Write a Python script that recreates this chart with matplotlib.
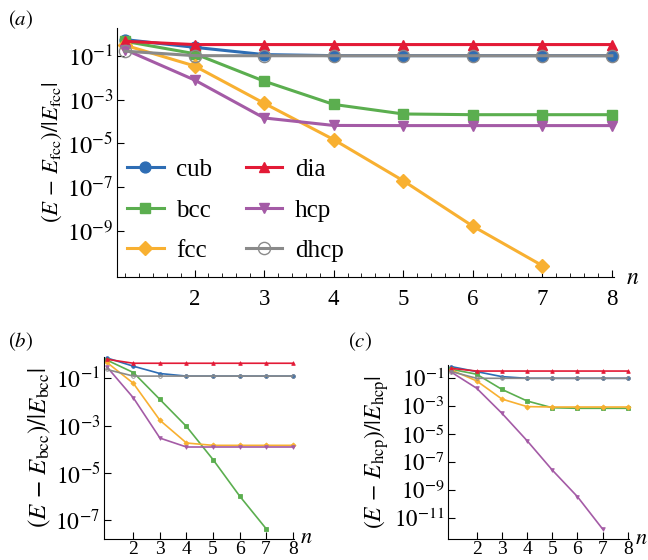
import numpy as np
import matplotlib
matplotlib.use('Agg')
import matplotlib.pyplot as plt
from matplotlib.ticker import FixedLocator, MultipleLocator, NullLocator

plt.rcParams['font.family'] = ['Liberation Serif', 'DejaVu Serif']
plt.rcParams['mathtext.fontset'] = 'stix'

# structures and style
names = ['cub', 'bcc', 'fcc', 'dia', 'hcp', 'dhcp']
col = {'cub': '#2E6DB4', 'bcc': '#5BAE4F', 'fcc': '#F8B031',
       'dia': '#E31A36', 'hcp': '#A45BA6', 'dhcp': '#8A8A8A'}
mark = {'cub': 'o', 'bcc': 's', 'fcc': 'D', 'dia': '^', 'hcp': 'v', 'dhcp': 'o'}
n = [1, 2, 3, 4, 5, 6, 7, 8]

# (a) relative to fcc
a_cub = [0.54, 0.24, 0.112, 0.100, 0.100, 0.100, 0.100, 0.100]
a_bcc = [0.45, 0.123, 6.9e-3, 6.0e-4, 2.2e-4, 2.04e-4, 2.04e-4, 2.04e-4]
a_fcc = [0.30, 3.4e-2, 6.8e-4, 1.5e-5, 2.0e-7, 1.7e-9, 2.7e-11]
a_dia = [0.45, 0.32, 0.32, 0.32, 0.32, 0.32, 0.32, 0.32]
a_hcp = [0.19, 7.8e-3, 1.45e-4, 6.6e-5, 6.5e-5, 6.5e-5, 6.5e-5, 6.5e-5]
a_dhcp = [0.16, 0.100, 0.099, 0.099, 0.099, 0.099, 0.099, 0.099]

# (b) relative to bcc
b_cub = [0.74, 0.33, 0.162, 0.126, 0.126, 0.126, 0.126, 0.126]
b_bcc = [0.60, 0.178, 0.0129, 9.3e-4, 3.7e-5, 1.07e-6, 4.4e-8]
b_fcc = [0.48, 0.062, 1.7e-3, 1.86e-4, 1.48e-4, 1.48e-4, 1.48e-4, 1.48e-4]
b_dia = [0.65, 0.44, 0.44, 0.44, 0.44, 0.44, 0.44, 0.44]
b_hcp = [0.31, 0.0151, 3.0e-4, 1.26e-4, 1.26e-4, 1.26e-4, 1.26e-4, 1.26e-4]
b_dhcp = [0.24, 0.126, 0.126, 0.126, 0.126, 0.126, 0.126, 0.126]

# (c) relative to hcp
c_cub = [0.68, 0.30, 0.132, 0.100, 0.100, 0.100, 0.100, 0.100]
c_bcc = [0.44, 0.195, 0.0162, 2.4e-3, 7.9e-4, 7.2e-4, 7.2e-4, 7.2e-4]
c_fcc = [0.39, 0.065, 3.3e-3, 9.5e-4, 8.9e-4, 8.9e-4, 8.9e-4, 8.9e-4]
c_dia = [0.51, 0.33, 0.33, 0.33, 0.33, 0.33, 0.33, 0.33]
c_hcp = [0.27, 0.0195, 3.2e-4, 3.5e-6, 2.8e-8, 3.5e-10, 1.7e-12]
c_dhcp = [0.30, 0.100, 0.100, 0.100, 0.100, 0.100, 0.100, 0.100]

data = {
    'a': dict(cub=a_cub, bcc=a_bcc, fcc=a_fcc, dia=a_dia, hcp=a_hcp, dhcp=a_dhcp),
    'b': dict(cub=b_cub, bcc=b_bcc, fcc=b_fcc, dia=b_dia, hcp=b_hcp, dhcp=b_dhcp),
    'c': dict(cub=c_cub, bcc=c_bcc, fcc=c_fcc, dia=c_dia, hcp=c_hcp, dhcp=c_dhcp),
}
ylabels = {'a': r'$(E\,-\,E_{\rm fcc})/|E_{\rm fcc}|$',
           'b': r'$(E\,-\,E_{\rm bcc})/|E_{\rm bcc}|$',
           'c': r'$(E\,-\,E_{\rm hcp})/|E_{\rm hcp}|$'}
yexp = {'a': [-1, -3, -5, -7, -9], 'b': [-1, -3, -5, -7], 'c': [-1, -3, -5, -7, -9, -11]}
ylims = {'a': (10**-11.07, 10**0.26), 'b': (10**-7.78, 10**-0.08), 'c': (10**-12.48, 10**-0.05)}
xlims = {'a': (0.89, 8.03), 'b': (0.905, 8.05), 'c': (0.873, 8.05)}
ylab_fs = {'a': 16.5, 'b': 18, 'c': 17}
ytick_fs = {'a': 17.5, 'b': 17, 'c': 16.5}
xtick_fs = {'a': 16.5, 'b': 14, 'c': 14}

fig = plt.figure(figsize=(6.48, 5.6), dpi=100)
axes = {'a': fig.add_axes([0.181, 0.506, 0.7665, 0.444]),
        'b': fig.add_axes([0.161, 0.038, 0.2927, 0.325]),
        'c': fig.add_axes([0.6918, 0.0375, 0.279, 0.3107])}

for p, ax in axes.items():
    big = (p == 'a')
    for nm in names:
        y = data[p][nm]
        x = n[:len(y)]
        if big:
            ms = 7.8 if nm != 'dhcp' else 8.8
            lw = 2.2
        else:
            ms = 2.6
            lw = 1.2
        mfc = 'none' if nm == 'dhcp' else col[nm]
        if nm == 'fcc' and big:
            ms = 7.2
        ax.plot(x, y, '-', marker=mark[nm], color=col[nm], mfc=mfc, mec=col[nm],
                ms=ms, lw=lw, mew=1.0 if big else 0.6, label=nm, clip_on=False)
    ax.set_yscale('log')
    ax.set_ylim(*ylims[p])
    ax.set_xlim(*xlims[p])
    ax.spines['top'].set_visible(False)
    ax.spines['right'].set_visible(False)
    ax.yaxis.set_major_locator(FixedLocator([10.0**e for e in yexp[p]]))
    ax.yaxis.set_minor_locator(NullLocator())
    ax.set_yticklabels([r'$10^{%d}$' % e for e in yexp[p]])
    ax.set_xticks([2, 3, 4, 5, 6, 7, 8])
    ax.tick_params(axis='both', direction='in', length=5, width=0.8)
    ax.tick_params(axis='y', pad=3, labelsize=ytick_fs[p])
    ax.tick_params(axis='x', labelsize=xtick_fs[p])
    if big:
        ax.xaxis.set_minor_locator(MultipleLocator(0.2))
        ax.tick_params(axis='x', which='minor', direction='in', length=3, width=0.6)
        ax.tick_params(axis='x', pad=9)
        ax.annotate('$n$', xy=(1, 0), xycoords='axes fraction', xytext=(9, -1),
                    textcoords='offset points', fontsize=17, ha='left', va='center')
    else:
        ax.tick_params(axis='x', pad=1.5)
        ax.annotate('$n$', xy=(1, 0), xycoords='axes fraction', xytext=(4, 0),
                    textcoords='offset points', fontsize=16, ha='left', va='center')
    ax.set_ylabel(ylabels[p], fontsize=ylab_fs[p], labelpad=2)

axes['a'].legend(ncol=2, loc='upper left', bbox_to_anchor=(0.0, 0.515), borderaxespad=0,
                 frameon=False, fontsize=18, handlelength=1.45, columnspacing=1.35,
                 labelspacing=0.72, handletextpad=0.5)

fig.text(0.012, 0.965, '$(a)$', fontsize=15, va='center')
fig.text(0.012, 0.39, '$(b)$', fontsize=15, va='center')
fig.text(0.537, 0.39, '$(c)$', fontsize=15, va='center')

plt.savefig('out.png', dpi=100)
